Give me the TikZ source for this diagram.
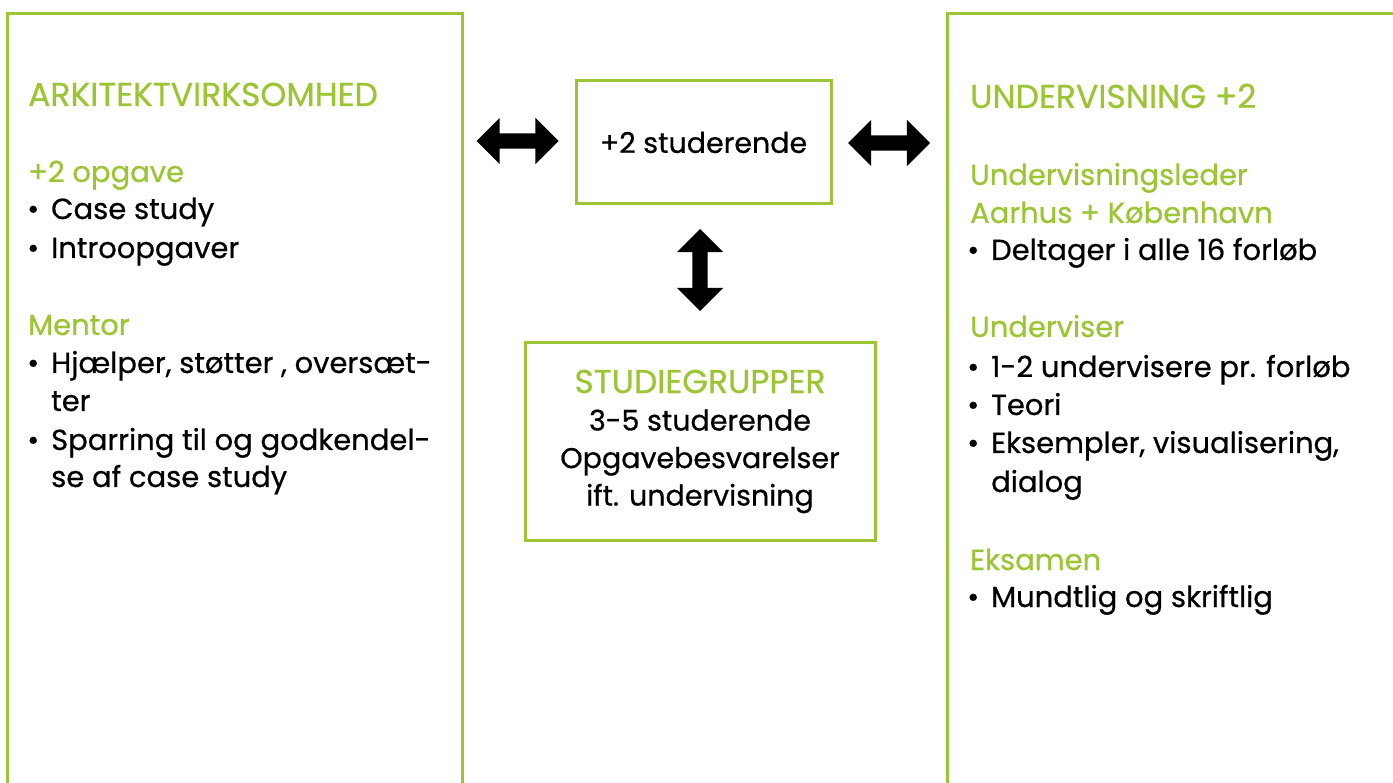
\documentclass[tikz,border=0pt]{standalone}
\usepackage{fontspec}
\setmainfont{Poppins}[FakeBold=0.6]
\usetikzlibrary{shapes.arrows,positioning}
\definecolor{kgreen}{RGB}{155,197,50}
\newcommand{\blt}{\llap{\textbullet\hspace{12pt}}}

\tikzset{
  frame/.style={draw=kgreen, line width=3pt, inner sep=0pt},
  txt/.style={anchor=base west, inner sep=0pt, font=\fontsize{29}{38}\selectfont},
  head/.style={txt, text=kgreen},
  caps/.style={head, font=\fontsize{33}{38}\selectfont},
  bigarrow/.style={double arrow, fill=black, inner sep=7.5pt,
    minimum height=82pt, double arrow head extend=15.5pt}
}

\begin{document}
\begin{tikzpicture}[x=1pt,y=-1pt]
        \clip (0,0) rectangle (1393,783);
        \fill[white] (0,0) rectangle (1393,783);

        % columns
        \draw[frame] (7,14) rectangle (462,800);
        \draw[frame] (947,14) rectangle (1420,800);

        % left column
        \node[caps] (lh0) at (28,106) {ARKITEKTVIRKSOMHED};
        \foreach \y/\t [count=\i] in {182/+2 opgave, 335/Mentor} {
          \node[head] (lh\i) at (28,\y) {\t};
        }
        \foreach \y/\t [count=\i] in {219/\blt Case study, 258/\blt Introopgaver,
            373/{\blt Hjælper, støtter , oversæt-}, 411/ter,
            450/\blt Sparring til og godkendel-, 487/se af case study} {
          \node[txt] (lb\i) at (51,\y) {\t};
        }

        % right column
        \node[caps] (rh0) at (970,108) {UNDERVISNING +2};
        \foreach \y/\t [count=\i] in {185/Undervisningsleder,
            223/Aarhus + København, 337/Underviser, 570/Eksamen} {
          \node[head] (rh\i) at (970,\y) {\t};
        }
        \foreach \y/\t [count=\i] in {260/\blt Deltager i alle 16 forløb,
            377/\blt 1-2 undervisere pr. forløb, 415/\blt Teori,
            453/{\blt Eksempler, visualisering,}, 492/dialog,
            607/\blt Mundtlig og skriftlig} {
          \node[txt] (rb\i) at (991,\y) {\t};
        }

        % middle
        \node[frame, minimum width=255, minimum height=123,
              font=\fontsize{28.5}{38}\selectfont] (stud) at (703.5,142.5) {+2 studerende};
        \node[frame, minimum width=350, minimum height=197, align=center,
              font=\fontsize{28.5}{37.5}\selectfont] (grp) at (700,441.5)
              {\textcolor{kgreen}{\fontsize{33}{37.5}\selectfont STUDIEGRUPPER}\\3-5 studerende\\Opgavebesvarelser\\ift. undervisning};

        \node[bigarrow] (arrL) at (517.5,141) {};
        \node[bigarrow] (arrR) at (889,143) {};
        \node[bigarrow, rotate=90] (arrV) at (700,270) {};
\end{tikzpicture}
\end{document}
